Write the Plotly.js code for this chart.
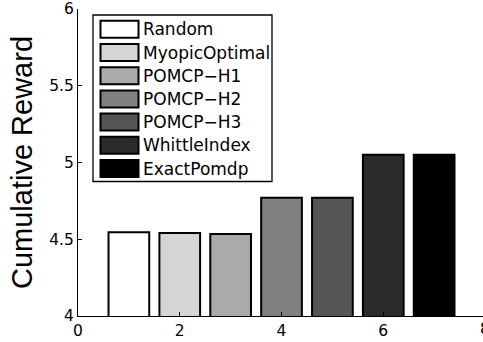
<!DOCTYPE html>
<html>
<head>
<meta charset="utf-8">
<script src="https://cdn.plot.ly/plotly-3.0.1.min.js"></script>
<style>html,body{margin:0;padding:0;background:#fff;}#chart{width:483px;height:342px;}</style>
</head>
<body>
<div id="chart"></div>
<script>
const methods = ["Random", "MyopicOptimal", "POMCP\u2212H1", "POMCP\u2212H2", "POMCP\u2212H3", "WhittleIndex", "ExactPomdp"];
const positions = [1, 2, 3, 4, 5, 6, 7];
const rewards = [4.545, 4.540, 4.535, 4.770, 4.770, 5.050, 5.050];
const colors = ["#ffffff", "#d5d5d5", "#aaaaaa", "#808080", "#555555", "#2b2b2b", "#000000"];
const yTicks = [4, 4.5, 5, 5.5, 6];
const yTickLabels = ["4", "4.5", "5", "5.5", "6"];
const xTicks = [0, 2, 4, 6];
const xTickLabels = ["0", "2", "4", "6"];

const W = 483, H = 342;
const M = {l: 78, r: 0, t: 9, b: 26};
const pw = W - M.l - M.r, ph = H - M.t - M.b;
const px2x = p => (p - M.l) / pw;
const px2y = p => 1 - (p - M.t) / ph;

const wideFont = "DejaVu Sans, Verdana, sans-serif";
const titleFont = "Liberation Sans, Arial, Helvetica, sans-serif";

const trace = {
  type: "bar",
  x: positions,
  y: rewards,
  base: 0,
  width: 0.8,
  marker: {color: colors, line: {color: "#000", width: 2}},
  showlegend: false,
  hoverinfo: "none"
};

const shapes = [];
const annotations = [];
// legend box
shapes.push({type: "rect", xref: "paper", yref: "paper",
  x0: px2x(93), x1: px2x(272), y0: px2y(181.5), y1: px2y(15),
  line: {color: "#000", width: 1.3}, fillcolor: "#fff", layer: "above"});
methods.forEach((m, i) => {
  const cy = 29.3 + i * 23.2;
  shapes.push({type: "rect", xref: "paper", yref: "paper",
    x0: px2x(100.5), x1: px2x(138.5), y0: px2y(cy + 8.5), y1: px2y(cy - 8.5),
    line: {color: "#000", width: 2}, fillcolor: colors[i], layer: "above"});
  annotations.push({xref: "paper", yref: "paper", x: px2x(141), y: px2y(cy),
    xanchor: "left", yanchor: "middle", showarrow: false, text: m,
    font: {family: wideFont, size: 17, color: "#000"}});
});
// partially visible "8" tick label at the right edge
annotations.push({xref: "paper", yref: "paper", x: px2x(485), y: px2y(329),
  xanchor: "center", yanchor: "middle", showarrow: false, text: "8",
  font: {family: wideFont, size: 15.5, color: "#000"}});

const layout = {
  width: W, height: H,
  margin: M,
  paper_bgcolor: "#fff", plot_bgcolor: "#fff",
  font: {family: wideFont, color: "#000"},
  bargap: 0,
  xaxis: {
    range: [0, 7.96], tickvals: xTicks, ticktext: xTickLabels,
    ticks: "inside", ticklen: 4, tickcolor: "#000",
    showline: true, linecolor: "#000", linewidth: 1,
    showgrid: false, zeroline: false, fixedrange: true,
    tickfont: {size: 15.5, family: wideFont}
  },
  yaxis: {
    range: [4, 6], tickvals: yTicks, ticktext: yTickLabels,
    ticks: "inside", ticklen: 4, tickcolor: "#000",
    showline: true, linecolor: "#000", linewidth: 1,
    showgrid: false, zeroline: false, fixedrange: true,
    ticklabeloverflow: "allow",
    tickfont: {size: 15.5, family: wideFont},
    title: {text: "Cumulative Reward", font: {size: 29, family: titleFont}, standoff: 8}
  },
  shapes: shapes,
  annotations: annotations
};

Plotly.newPlot("chart", [trace], layout, {staticPlot: true, displayModeBar: false});
</script>
</body>
</html>
